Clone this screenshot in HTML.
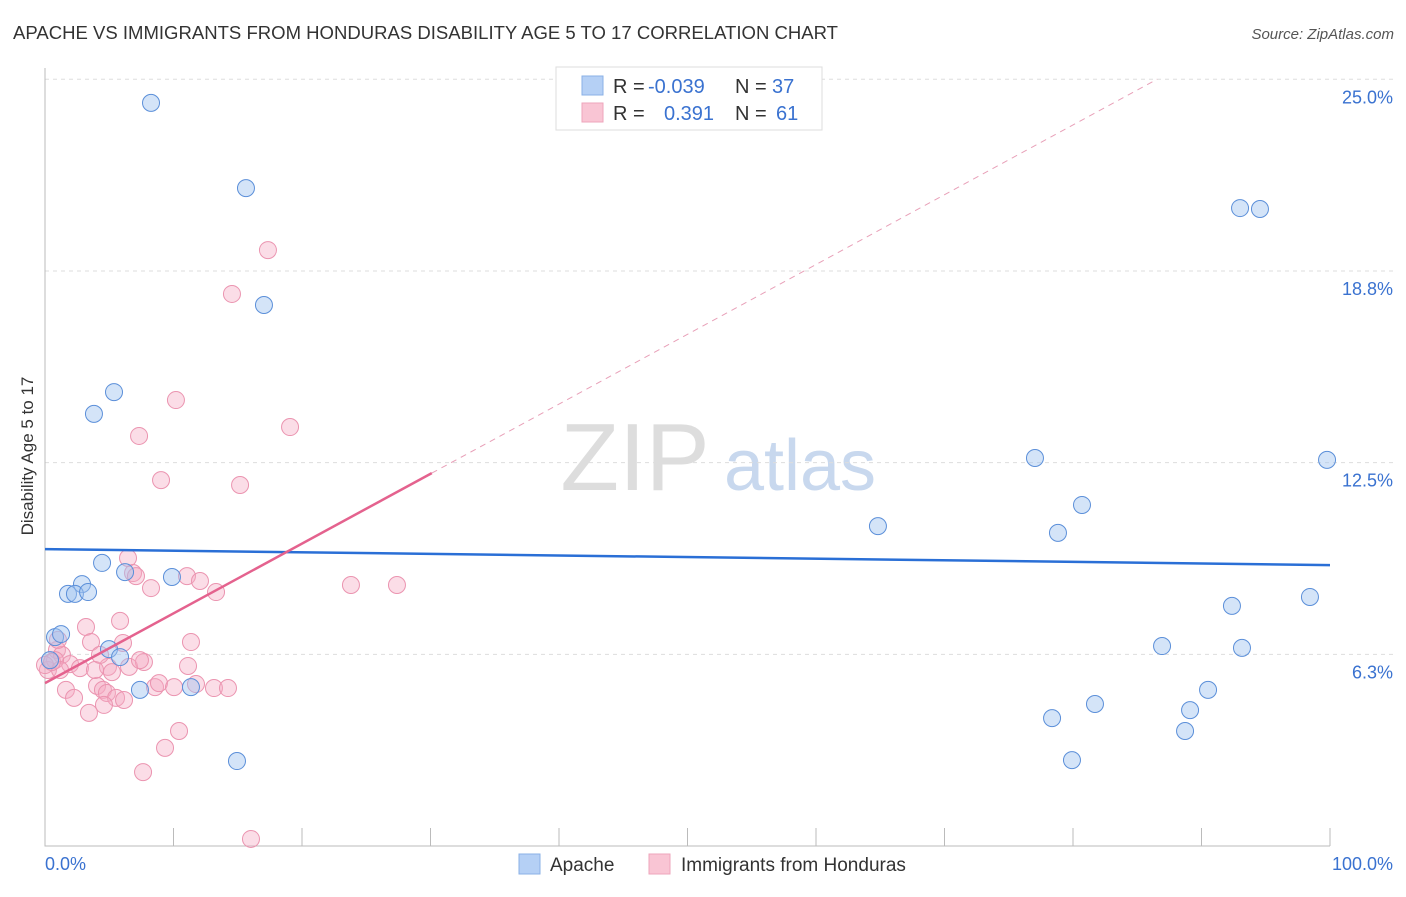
<!DOCTYPE html>
<html><head><meta charset="utf-8"><style>
body{margin:0;background:#fff;font-family:"Liberation Sans",sans-serif;}
svg text{font-family:"Liberation Sans",sans-serif;}
</style></head><body>
<svg id="chart" width="1406" height="892" xmlns="http://www.w3.org/2000/svg">
<text x="13" y="39" font-size="18" fill="#333" textLength="825" lengthAdjust="spacingAndGlyphs">APACHE VS IMMIGRANTS FROM HONDURAS DISABILITY AGE 5 TO 17 CORRELATION CHART</text>
<text x="1394" y="39" font-size="15" fill="#555" text-anchor="end" font-style="italic">Source: ZipAtlas.com</text>
<text transform="translate(33,456) rotate(-90)" font-size="17" fill="#333" text-anchor="middle">Disability Age 5 to 17</text>
<g><text x="635" y="490" font-size="96" fill="#ddd" font-family="Liberation Serif" text-anchor="middle">ZIP</text><text x="800" y="490" font-size="72" fill="#c8d8ee" text-anchor="middle">atlas</text></g>
<g id="grid"></g><g id="axes"></g><g id="marks"></g><g id="lines"></g>
<g>
<rect x="556" y="67" width="266" height="63" fill="#fff" stroke="#ddd"/>
<rect x="582" y="76" width="21" height="19" fill="#b5d0f5" stroke="#8ab0e6"/>
<rect x="582" y="103" width="21" height="19" fill="#f9c5d4" stroke="#eea5bb"/>
<text x="613" y="93" font-size="20" fill="#333">R =</text><text x="648" y="93" font-size="20" fill="#3a72d0">-0.039</text>
<text x="735" y="93" font-size="20" fill="#333">N =</text><text x="772" y="93" font-size="20" fill="#3a72d0">37</text>
<text x="613" y="120" font-size="20" fill="#333">R =</text><text x="664" y="120" font-size="20" fill="#3a72d0">0.391</text>
<text x="735" y="120" font-size="20" fill="#333">N =</text><text x="776" y="120" font-size="20" fill="#3a72d0">61</text>
</g>
<g>
<rect x="519" y="854" width="21" height="20" fill="#b5d0f5" stroke="#8ab0e6"/>
<text x="550" y="871" font-size="19" fill="#333">Apache</text>
<rect x="649" y="854" width="21" height="20" fill="#f9c5d4" stroke="#eea5bb"/>
<text x="681" y="871" font-size="19" fill="#333">Immigrants from Honduras</text>
</g>
</svg>
<script>
const blueX=[8.25,15.64,17.04,5.37,3.81,4.44,6.23,9.88,2.88,1.79,2.33,3.35,0.78,1.25,4.98,5.84,7.39,11.36,14.94,64.82,77.04,78.83,80.70,93.00,94.55,99.77,92.37,98.44,86.93,93.15,90.51,78.37,81.71,89.11,88.72,79.92,0.39];
const blueY=[24.23,21.45,17.64,14.80,14.09,9.23,8.93,8.77,8.54,8.22,8.22,8.28,6.81,6.91,6.42,6.16,5.09,5.18,2.77,10.43,12.65,10.21,11.12,20.80,20.77,12.59,7.83,8.12,6.52,6.46,5.09,4.17,4.63,4.43,3.75,2.80,6.06];
const pinkX=[17.35,14.55,10.19,19.07,7.32,9.03,15.18,6.46,6.85,7.08,8.25,11.05,12.06,13.31,23.81,27.39,3.19,5.84,3.58,6.07,11.36,0.93,1.32,1.95,2.72,4.90,5.21,6.54,7.70,11.13,0.23,0.78,1.63,2.26,4.05,4.51,4.82,5.53,6.15,8.56,8.87,10.04,11.75,13.15,14.24,3.42,4.59,10.43,9.34,7.63,16.03,1.01,3.89,0.00,1.17,0.54,7.39,4.28];
const pinkY=[19.43,18.00,14.54,13.66,13.37,11.93,11.77,9.39,8.90,8.80,8.41,8.80,8.64,8.28,8.51,8.51,7.14,7.34,6.65,6.62,6.65,6.39,6.23,5.93,5.80,5.84,5.67,5.84,6.00,5.87,5.74,6.06,5.09,4.83,5.22,5.09,4.99,4.83,4.76,5.18,5.31,5.18,5.28,5.15,5.15,4.34,4.60,3.75,3.20,2.41,0.23,6.72,5.74,5.90,5.74,6.00,6.06,6.23];
const yTicks=[6.25,12.5,18.75,25];
const yTickLabels=["6.3%","12.5%","18.8%","25.0%"];
const xTicks=[0,10,20,30,40,50,60,70,80,90,100];
const blueTrend=[9.68,9.16];
const pinkTrend=[5.31,0.2275];
const X=v=>45+v*12.85, Y=v=>846-v*30.67;
const NS="http://www.w3.org/2000/svg";
function mk(parent,tag,attrs){const e=document.createElementNS(NS,tag);for(const k in attrs)e.setAttribute(k,attrs[k]);document.getElementById(parent).appendChild(e);return e;}
yTicks.forEach((t,i)=>{
 const l=mk('grid','line',{x1:45,x2:1395,y1:Y(t),y2:Y(t),stroke:'#ddd','stroke-dasharray':'4,4'});
 
 
 const tx=mk('grid','text',{x:1393,y:Y(t)+24,'font-size':18,fill:'#3a72d0','text-anchor':'end'});
 tx.textContent=yTickLabels[i];
 
 
});
const ax=mk('axes','path',{d:'M45,68 V846 H1330',stroke:'#bbb',fill:'none'});


xTicks.slice(1).forEach(t=>{
 const l=mk('axes','line',{x1:X(t),x2:X(t),y1:828,y2:846,stroke:'#bbb'});
 
 
});
const xl0=mk('axes','text',{x:45,y:870,'font-size':18,fill:'#3a72d0'});xl0.textContent='0.0%';


const xl1=mk('axes','text',{x:1393,y:870,'font-size':18,fill:'#3a72d0','text-anchor':'end'});xl1.textContent='100.0%';


pinkX.forEach((x,i)=>{
 const c=mk('marks','circle',{cx:X(x),cy:Y(pinkY[i]),r:8.5,fill:'rgba(245,170,195,0.4)',stroke:'#eb94b0','stroke-width':1});
 
 
});
blueX.forEach((x,i)=>{
 const c=mk('marks','circle',{cx:X(x),cy:Y(blueY[i]),r:8.5,fill:'rgba(160,195,240,0.45)',stroke:'#5b8fd9','stroke-width':1});
 
 
});
const bl=mk('lines','line',{x1:X(0),y1:Y(blueTrend[0]),x2:X(100),y2:Y(blueTrend[1]),stroke:'#2a6fd6','stroke-width':2.5});


const xe=(25-pinkTrend[0])/pinkTrend[1];
const pd=mk('lines','line',{x1:X(30.1),y1:Y(pinkTrend[0]+pinkTrend[1]*30.1),x2:X(xe),y2:Y(25),stroke:'#e8a0b8','stroke-width':1,'stroke-dasharray':'6,5'});


const pl=mk('lines','line',{x1:X(0),y1:Y(pinkTrend[0]),x2:X(30.1),y2:Y(pinkTrend[0]+pinkTrend[1]*30.1),stroke:'#e4628e','stroke-width':2.5});


</script>
</body></html>
